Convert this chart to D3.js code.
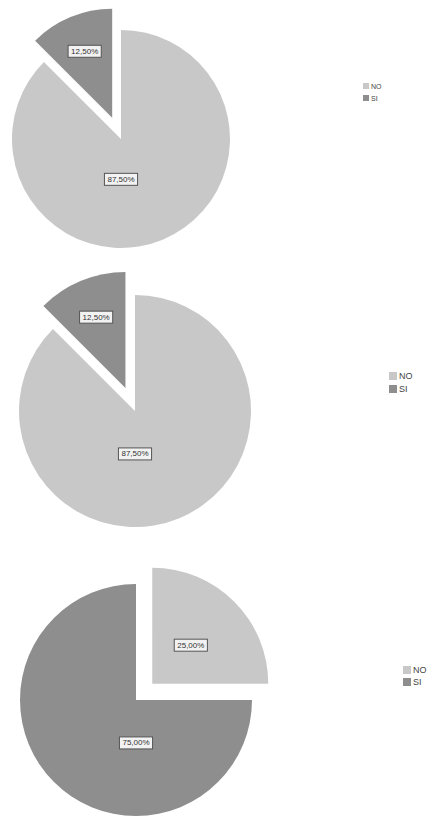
<!DOCTYPE html>
<html>
<head>
<meta charset="utf-8">
<script src="https://cdn.jsdelivr.net/npm/d3@7/dist/d3.min.js"></script>
<style>
  html, body { margin: 0; padding: 0; background: #ffffff; }
  svg { display: block; }
</style>
</head>
<body>
<svg id="chart" width="427" height="816"></svg>
<script>
// ---- data ----
const categories = ["NO", "SI"];
const pie1Values = [87.5, 12.5];
const pie2Values = [87.5, 12.5];
const pie3Values = [25.0, 75.0];
const explodedSlice = ["SI", "SI", "NO"];

// ---- layout (positions / sizes only) ----
const layouts = [
  { cx: 121, cy: 139, r: 109, explode: 23, smallLabel: 0.66, legendX: 363, legendY: 83, sw: 6, gap: 12, fs: 7 },
  { cx: 135, cy: 411, r: 116, explode: 25, smallLabel: 0.66, legendX: 389, legendY: 372, sw: 8, gap: 13, fs: 9 },
  { cx: 136, cy: 700, r: 116, explode: 23, smallLabel: 0.47, legendX: 403, legendY: 666, sw: 8, gap: 12, fs: 9 }
];
const pies = [pie1Values, pie2Values, pie3Values];

const color = d3.scaleOrdinal().domain(categories).range(["#c8c8c8", "#8e8e8e"]);
const fmt = v => d3.format(".2f")(v).replace(".", ",") + "%";

const svg = d3.select("#chart");

pies.forEach((values, i) => {
  const L = layouts[i];
  const data = categories.map((c, k) => ({ cat: c, value: values[k] }));
  const pieGen = d3.pie().sort(null).value(d => d.value);
  const arcs = pieGen(data);
  const arc = d3.arc().innerRadius(0).outerRadius(L.r);

  const g = svg.append("g").attr("transform", `translate(${L.cx},${L.cy})`);

  const offset = a => {
    if (a.data.cat !== explodedSlice[i]) return [0, 0];
    const mid = (a.startAngle + a.endAngle) / 2;
    return [Math.sin(mid) * L.explode, -Math.cos(mid) * L.explode];
  };

  const slice = g.selectAll("g.slice").data(arcs).join("g")
    .attr("class", "slice")
    .attr("transform", a => `translate(${offset(a)[0]},${offset(a)[1]})`);

  slice.append("path")
    .attr("d", arc)
    .attr("fill", a => color(a.data.cat))
    .attr("stroke", "none");

  // labels
  slice.each(function(a) {
    let lx, ly;
    if (a.data.value > 50) {
      lx = 0; ly = L.r * 0.37;
    } else {
      const mid = (a.startAngle + a.endAngle) / 2;
      lx = Math.sin(mid) * L.r * L.smallLabel;
      ly = -Math.cos(mid) * L.r * L.smallLabel;
    }
    const lg = d3.select(this).append("g").attr("transform", `translate(${lx},${ly})`);
    const t = lg.append("text")
      .attr("text-anchor", "middle")
      .attr("dominant-baseline", "central")
      .attr("font-family", "Liberation Sans, Arial, sans-serif")
      .attr("font-size", 8)
      .attr("fill", "#333")
      .text(fmt(a.data.value));
    const bb = t.node().getBBox();
    lg.insert("rect", "text")
      .attr("x", bb.x - 3).attr("y", bb.y - 1.5)
      .attr("width", bb.width + 6).attr("height", bb.height + 3)
      .attr("fill", "#f2f2f2")
      .attr("stroke", "#555")
      .attr("stroke-width", 1);
  });

  // legend
  const lg = svg.append("g").attr("transform", `translate(${L.legendX},${L.legendY})`);
  const item = lg.selectAll("g").data(categories).join("g")
    .attr("transform", (d, k) => `translate(0,${k * L.gap})`);
  item.append("rect")
    .attr("width", L.sw).attr("height", L.sw)
    .attr("fill", d => color(d));
  item.append("text")
    .attr("x", L.sw + 2)
    .attr("y", L.sw / 2)
    .attr("dominant-baseline", "central")
    .attr("font-family", "Liberation Sans, Arial, sans-serif")
    .attr("font-size", L.fs)
    .attr("fill", "#444")
    .text(d => d);
});
</script>
</body>
</html>
